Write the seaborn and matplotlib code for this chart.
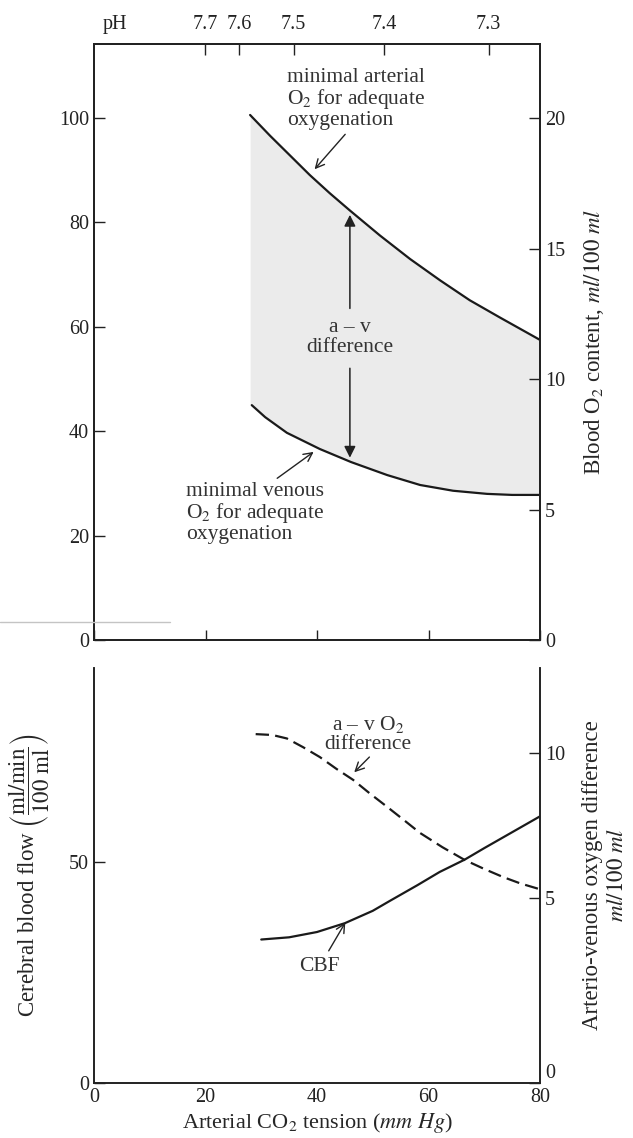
import numpy as np
import pandas as pd
import matplotlib.pyplot as plt
import seaborn as sns

# --- data ---
# upper panel: O2 content (vol %) vs arterial CO2 tension (mm Hg)
art_co2 = [28.0, 31.6, 35.2, 38.7, 42.3, 45.9, 51.3, 56.7, 62.1, 67.4, 72.8, 80.0]
art_o2 = [100.6, 96.6, 92.8, 89.1, 85.6, 82.3, 77.5, 73.0, 68.9, 65.1, 61.8, 57.5]
ven_co2 = [28.3, 30.7, 34.6, 40.5, 46.1, 52.6, 58.5, 64.4, 70.5, 75.0, 80.0]
ven_o2 = [45.0, 42.7, 39.7, 36.6, 34.1, 31.6, 29.7, 28.6, 28.0, 27.8, 27.8]
ph_pos = [19.9, 26.0, 35.8, 52.0, 70.8]
ph_lab = ['7.7', '7.6', '7.5', '7.4', '7.3']

# lower panel
cbf_co2 = [30, 35, 40, 45, 50, 53, 58, 62, 66.5, 70, 75, 80]
cbf = [32.5, 33.0, 34.2, 36.2, 39.0, 41.2, 44.8, 47.8, 50.6, 53.2, 56.8, 60.4]
avd_co2 = [29, 32, 34.6, 37.5, 40.5, 43.5, 46.5, 49.5, 52.6, 55.5, 58.5, 62.5, 66.5, 70, 73.4, 76.5, 80]
avd = [10.65, 10.62, 10.5, 10.2, 9.86, 9.45, 9.07, 8.6, 8.14, 7.7, 7.24, 6.75, 6.31, 6.0, 5.72, 5.5, 5.3]

upper = pd.DataFrame({'co2': art_co2, 'art': art_o2})
lower_v = pd.DataFrame({'co2': ven_co2, 'ven': ven_o2})
flow = pd.DataFrame({'co2': cbf_co2, 'cbf': cbf})
diff = pd.DataFrame({'co2': avd_co2, 'avd': avd})

sns.set_style('white')
plt.rcParams['font.family'] = ['Liberation Serif', 'DejaVu Serif']
plt.rcParams['mathtext.fontset'] = 'stix'

W, H = 633, 1138
fig = plt.figure(figsize=(W / 100, H / 100), dpi=100)
fig.patch.set_facecolor('white')

def frac(l, t, r, b):
    return [l / W, 1 - b / H, (r - l) / W, (b - t) / H]

FS = 14.5     # tick labels
TS = 15.5     # annotations
LS = 16.5     # axis labels
INK = '#222222'
TXT = '#333333'
tick_kw = dict(direction='in', length=8, width=1, labelsize=FS, colors=INK)

# ---------------- upper panel ----------------
ax1 = fig.add_axes(frac(94, 44, 540, 640))
sns.lineplot(data=upper, x='co2', y='art', ax=ax1, color='#1a1a1a', lw=1.6)
sns.lineplot(data=lower_v, x='co2', y='ven', ax=ax1, color='#1a1a1a', lw=1.6)
ven_on_art = np.interp(art_co2, ven_co2, ven_o2)
ax1.fill_between(art_co2, ven_on_art, art_o2, color='#ebebeb', lw=0, zorder=0)
ax1.set_xlim(0, 80)
ax1.set_ylim(0, 114.2)
ax1.set_xticks([0, 20, 40, 60, 80])
ax1.set_xticklabels([])
ax1.set_yticks([0, 20, 40, 60, 80, 100])
ax1.set_xlabel('')
ax1.set_ylabel('')
ax1.tick_params(axis='both', **tick_kw)
ax1.tick_params(axis='x', length=7)

ax1r = ax1.twinx()
ax1r.set_ylim(0, 114.2 / 5)
ax1r.set_yticks([0, 5, 10, 15, 20])
ax1r.tick_params(axis='y', **tick_kw)
ax1r.set_ylabel(r'Blood O$_2$ content, $ml/100\ ml$', fontsize=LS, labelpad=12)

ax1t = ax1.twiny()
ax1t.set_xlim(0, 80)
ax1t.set_xticks(ph_pos)
ax1t.set_xticklabels(ph_lab)
ax1t.tick_params(axis='x', **tick_kw)
ax1t.tick_params(axis='x', pad=7)
ax1t.annotate('pH', xy=(3.8, 1.0), xycoords=('data', 'axes fraction'),
              xytext=(0, 7), textcoords='offset points',
              ha='center', va='bottom', fontsize=FS, color=INK)
for a in (ax1, ax1r, ax1t):
    for s in a.spines.values():
        s.set_linewidth(1.2)
        s.set_color(INK)

# double arrow a-v difference
ax1.annotate('', xy=(45.9, 82.0), xytext=(45.9, 63.0),
             arrowprops=dict(arrowstyle='-|>', color=INK, lw=1.1, mutation_scale=17))
ax1.annotate('', xy=(45.9, 34.4), xytext=(45.9, 52.6),
             arrowprops=dict(arrowstyle='-|>', color=INK, lw=1.1, mutation_scale=17))
ax1.text(45.9, 58.0, 'a – v\ndifference', ha='center', va='center', fontsize=TS,
         color=TXT, linespacing=1.05)

ax1.annotate('minimal arterial\nO$_2$ for adequate\noxygenation', xy=(39.4, 90.0),
             xytext=(34.6, 109.6), ha='left', va='top', fontsize=TS, color=TXT,
             linespacing=1.0,
             arrowprops=dict(arrowstyle='->', color=INK, lw=1.0,
                             shrinkA=1, shrinkB=1, relpos=(0.45, 0.0)))
ax1.annotate('minimal venous\nO$_2$ for adequate\noxygenation', xy=(39.6, 36.2),
             xytext=(16.5, 30.2), ha='left', va='top', fontsize=TS, color=TXT,
             linespacing=1.0,
             arrowprops=dict(arrowstyle='->', color=INK, lw=1.0,
                             shrinkA=1, shrinkB=1, relpos=(0.62, 1.0)))

# ---------------- lower panel ----------------
ax2 = fig.add_axes(frac(94, 668, 540, 1083))
sns.lineplot(data=flow, x='co2', y='cbf', ax=ax2, color='#1a1a1a', lw=1.6)
ax2.set_xlim(0, 80)
ax2.set_ylim(0, 94)
ax2.set_xticks([0, 20, 40, 60, 80])
ax2.set_yticks([0, 50])
ax2.tick_params(axis='both', **tick_kw)
ax2.spines['top'].set_visible(False)
ax2.set_xlabel(r'Arterial CO$_2$ tension ($mm\ Hg$)', fontsize=LS - 0.5, labelpad=3)
ax2.set_ylabel(r'Cerebral blood flow $\left(\dfrac{\mathrm{ml/min}}{\mathrm{100\ ml}}\right)$',
               fontsize=LS, labelpad=12)

ax2r = ax2.twinx()
sns.lineplot(data=diff, x='co2', y='avd', ax=ax2r, color='#1a1a1a', lw=1.6,
             linestyle=(0, (6, 2.8)))
r_lo, r_hi = -1.38, 12.93
ax2r.set_ylim(r_lo, r_hi)
ax2r.set_yticks([r_lo, 5, 10])
ax2r.set_yticklabels(['0', '5', '10'])
ax2r.tick_params(axis='y', **tick_kw)
ax2r.get_yticklabels()[0].set_va('bottom')
ax2r.spines['top'].set_visible(False)
ax2r.set_ylabel('Arterio-venous oxygen difference\n$ml/100\ ml$', fontsize=LS,
                labelpad=12, linespacing=1.3)
for a in (ax2, ax2r):
    for s in a.spines.values():
        s.set_linewidth(1.2)
        s.set_color(INK)

ax2r.annotate('a – v O$_2$\ndifference', xy=(46.5, 9.3), xytext=(49.2, 10.65),
              ha='center', va='center', fontsize=TS, color=TXT, linespacing=0.95,
              arrowprops=dict(arrowstyle='->', color=INK, lw=1.0,
                              shrinkA=0, shrinkB=1, relpos=(0.55, 0.0)))
ax2.annotate('CBF', xy=(45.2, 36.6), xytext=(40.5, 26.5), ha='center', va='center',
             fontsize=TS, color=TXT,
             arrowprops=dict(arrowstyle='->', color=INK, lw=1.0,
                             shrinkA=2, shrinkB=1))

# faint scan rule left of the upper panel
fig.add_artist(plt.Line2D([0, 170 / W], [1 - 622 / H, 1 - 622 / H], color='#c4c4c4', lw=1))

fig.savefig('out.png', dpi=100, facecolor='white')
